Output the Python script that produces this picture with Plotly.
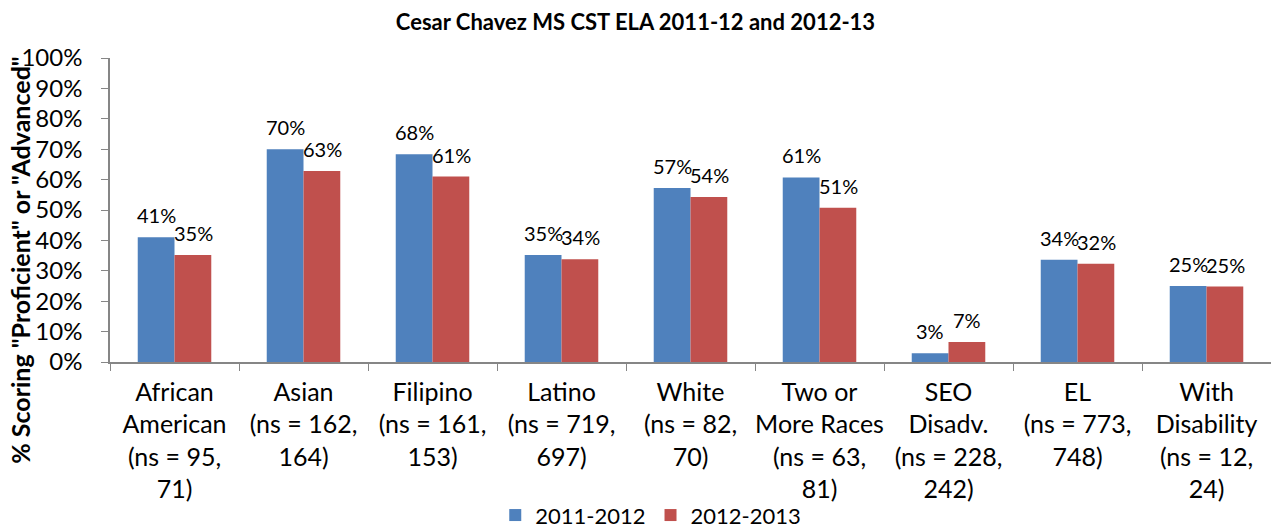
import plotly.graph_objects as go

categories = [
    "African<br>American<br>(ns = 95,<br>71)",
    "Asian<br>(ns = 162,<br>164)",
    "Filipino<br>(ns = 161,<br>153)",
    "Latino<br>(ns = 719,<br>697)",
    "White<br>(ns = 82,<br>70)",
    "Two or<br>More Races<br>(ns = 63,<br>81)",
    "SEO<br>Disadv.<br>(ns = 228,<br>242)",
    "EL<br>(ns = 773,<br>748)",
    "With<br>Disability<br>(ns = 12,<br>24)",
]
series_names = ["2011-2012", "2012-2013"]
values_2011_12 = [0.41, 0.70, 0.683, 0.352, 0.572, 0.607, 0.029, 0.336, 0.250]
values_2012_13 = [0.352, 0.628, 0.61, 0.338, 0.543, 0.507, 0.066, 0.323, 0.248]
colors = ["#4F81BD", "#C0504D"]
y_title = '% Scoring "Proficient" or "Advanced"'
chart_title = "Cesar Chavez MS CST ELA 2011-12 and 2012-13"

FONT = "Lato"
fig = go.Figure()
for name, vals, col in zip(series_names, [values_2011_12, values_2012_13], colors):
    fig.add_trace(go.Bar(x=categories, y=vals, name=name, marker_color=col,
                         marker_line_width=0))

annotations = []
for i, vals in enumerate([values_2011_12, values_2012_13]):
    for c, v in zip(categories, vals):
        annotations.append(dict(x=c, y=v, xref="x", yref="y", text=f"{round(v*100)}%",
                                showarrow=False, yanchor="bottom", xanchor="center",
                                xshift=(i - 0.5) * 37, yshift=8,
                                font=dict(family=FONT, size=20, color="#000")))
annotations.append(dict(x=-0.077, y=0.335, xref="paper", yref="paper",
                        text=f"<b>{y_title}</b>", textangle=-90, showarrow=False,
                        xanchor="center", yanchor="middle",
                        font=dict(family=FONT, size=25, color="#000")))

fig.update_layout(
    width=1271, height=529,
    margin=dict(l=110, r=0, t=58, b=167),
    paper_bgcolor="white", plot_bgcolor="white",
    barmode="group", bargap=0.43, bargroupgap=0,
    font=dict(family=FONT, color="#000"),
    title=dict(text=f"<b>{chart_title}</b>",
               x=0.5, xanchor="center", y=0.958, yanchor="middle",
               font=dict(family=FONT, size=22, color="#000")),
    xaxis=dict(showline=True, linecolor="#868686", linewidth=1.5, automargin=False,
               ticks="outside", tickson="boundaries", ticklen=7, tickcolor="#868686",
               ticklabelstandoff=7,
               tickfont=dict(family=FONT, size=25), tickangle=0),
    yaxis=dict(range=[0, 1], dtick=0.1, tickformat=".0%", showgrid=False,
               showline=True, linecolor="#868686", linewidth=1.5, automargin=False,
               ticks="outside", ticklen=7, tickcolor="#868686", zeroline=False,
               ticklabelstandoff=14,
               tickfont=dict(family=FONT, size=24)),
    legend=dict(orientation="h", xref="container", x=0.512, xanchor="center",
                yref="container", y=0.026, yanchor="middle",
                bgcolor="rgba(0,0,0,0)",
                font=dict(family=FONT, size=22), itemwidth=30),
    annotations=annotations,
)
fig.write_html("out.html")
